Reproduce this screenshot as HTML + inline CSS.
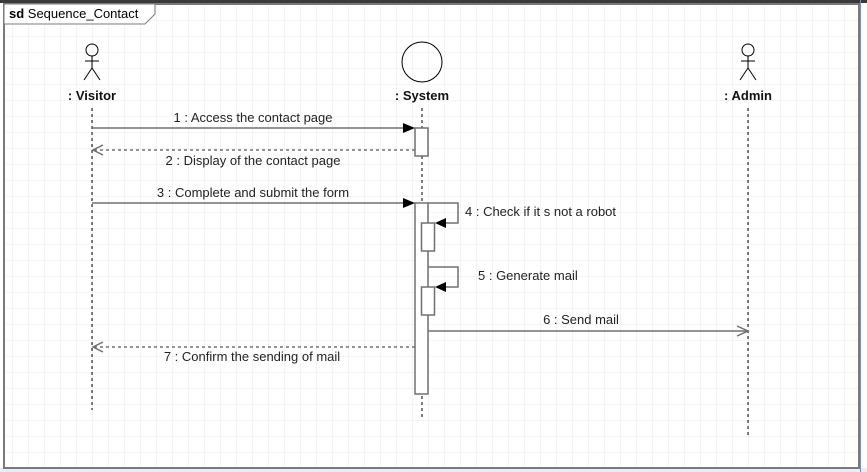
<!DOCTYPE html>
<html><head><meta charset="utf-8"><style>
html,body{margin:0;padding:0;background:#fff;}
svg{display:block;font-family:"Liberation Sans",sans-serif;}
</style></head><body>
<svg width="867" height="472" viewBox="0 0 867 472" xmlns="http://www.w3.org/2000/svg">
<defs>
<pattern id="g" x="12.5" y="4" width="16" height="16" patternUnits="userSpaceOnUse">
<path d="M0 0H16M0 0V16" stroke="#e9e9e9" stroke-width="1" fill="none"/>
</pattern>
</defs>
<rect width="867" height="472" fill="#fff"/>
<rect x="4" y="4" width="855" height="464" fill="url(#g)"/>
<rect x="0" y="0" width="867" height="3" fill="#3a3a3a"/>
<rect x="0" y="468" width="867" height="4" fill="#e8eef8"/>
<line x1="860.5" y1="0" x2="860.5" y2="472" stroke="#6b8fd8" stroke-width="1"/>
<rect x="4" y="4" width="855" height="464" fill="none" stroke="#7a7a7a" stroke-width="2"/>
<path d="M4 4H155V14L145 24H4Z" fill="#fff" stroke="#7a7a7a" stroke-width="1"/>
<text x="9" y="18" font-size="13"><tspan font-weight="bold">sd</tspan> Sequence_Contact</text>

<g stroke="#000" stroke-width="1" fill="none">
<circle cx="92" cy="50" r="6"/><path d="M92 56V68M85 61H99M84 80L92 68L100 80"/>
<circle cx="748" cy="50" r="6"/><path d="M748 56V68M741 61H755M740 80L748 68L756 80"/>
<circle cx="422" cy="62" r="20"/>
<g stroke-dasharray="3,3">
<line x1="92" y1="108" x2="92" y2="410"/>
<line x1="422" y1="108" x2="422" y2="420"/>
<line x1="748" y1="108" x2="748" y2="435"/>
</g>
</g>
<g font-size="13" font-weight="bold" text-anchor="middle" fill="#111">
<text x="92" y="100">: Visitor</text>
<text x="422" y="100">: System</text>
<text x="748" y="100">: Admin</text>
</g>

<g stroke="#707070" stroke-width="1.5" fill="#fff">
<rect x="415" y="128" width="13" height="28"/>
<rect x="415" y="203" width="13" height="191"/>
<rect x="421.5" y="223" width="13" height="28"/>
<rect x="421.5" y="287" width="13" height="28"/>
</g>
<g stroke="#707070" stroke-width="1.5" fill="none">
<line x1="92" y1="128" x2="405" y2="128"/>
<line x1="92" y1="203" x2="405" y2="203"/>
<path d="M428 203H458V223H445"/>
<path d="M428 267H458V287H445"/>
<line x1="428" y1="331" x2="747" y2="331"/>
<path d="M737 326L748 331L737 336"/>
<g stroke-dasharray="3,3">
<line x1="415" y1="150" x2="93" y2="150"/>
<line x1="415" y1="347" x2="93" y2="347"/>
</g>
<path d="M103 145L93 150L103 155"/>
<path d="M103 342L93 347L103 352"/>
</g>
<g fill="#000">
<path d="M403 123L415 128L403 133Z"/>
<path d="M403 198L415 203L403 208Z"/>
<path d="M446 218L435 223L446 228Z"/>
<path d="M446 282L435 287L446 292Z"/>
</g>
<g font-size="13" fill="#222">
<text x="253" y="122" text-anchor="middle">1 : Access the contact page</text>
<text x="253" y="165" text-anchor="middle">2 : Display of the contact page</text>
<text x="253" y="197" text-anchor="middle">3 : Complete and submit the form</text>
<text x="465" y="216">4 : Check if it s not a robot</text>
<text x="478" y="280">5 : Generate mail</text>
<text x="581" y="324" text-anchor="middle">6 : Send mail</text>
<text x="252" y="361" text-anchor="middle">7 : Confirm the sending of mail</text>
</g>
</svg>
</body></html>
